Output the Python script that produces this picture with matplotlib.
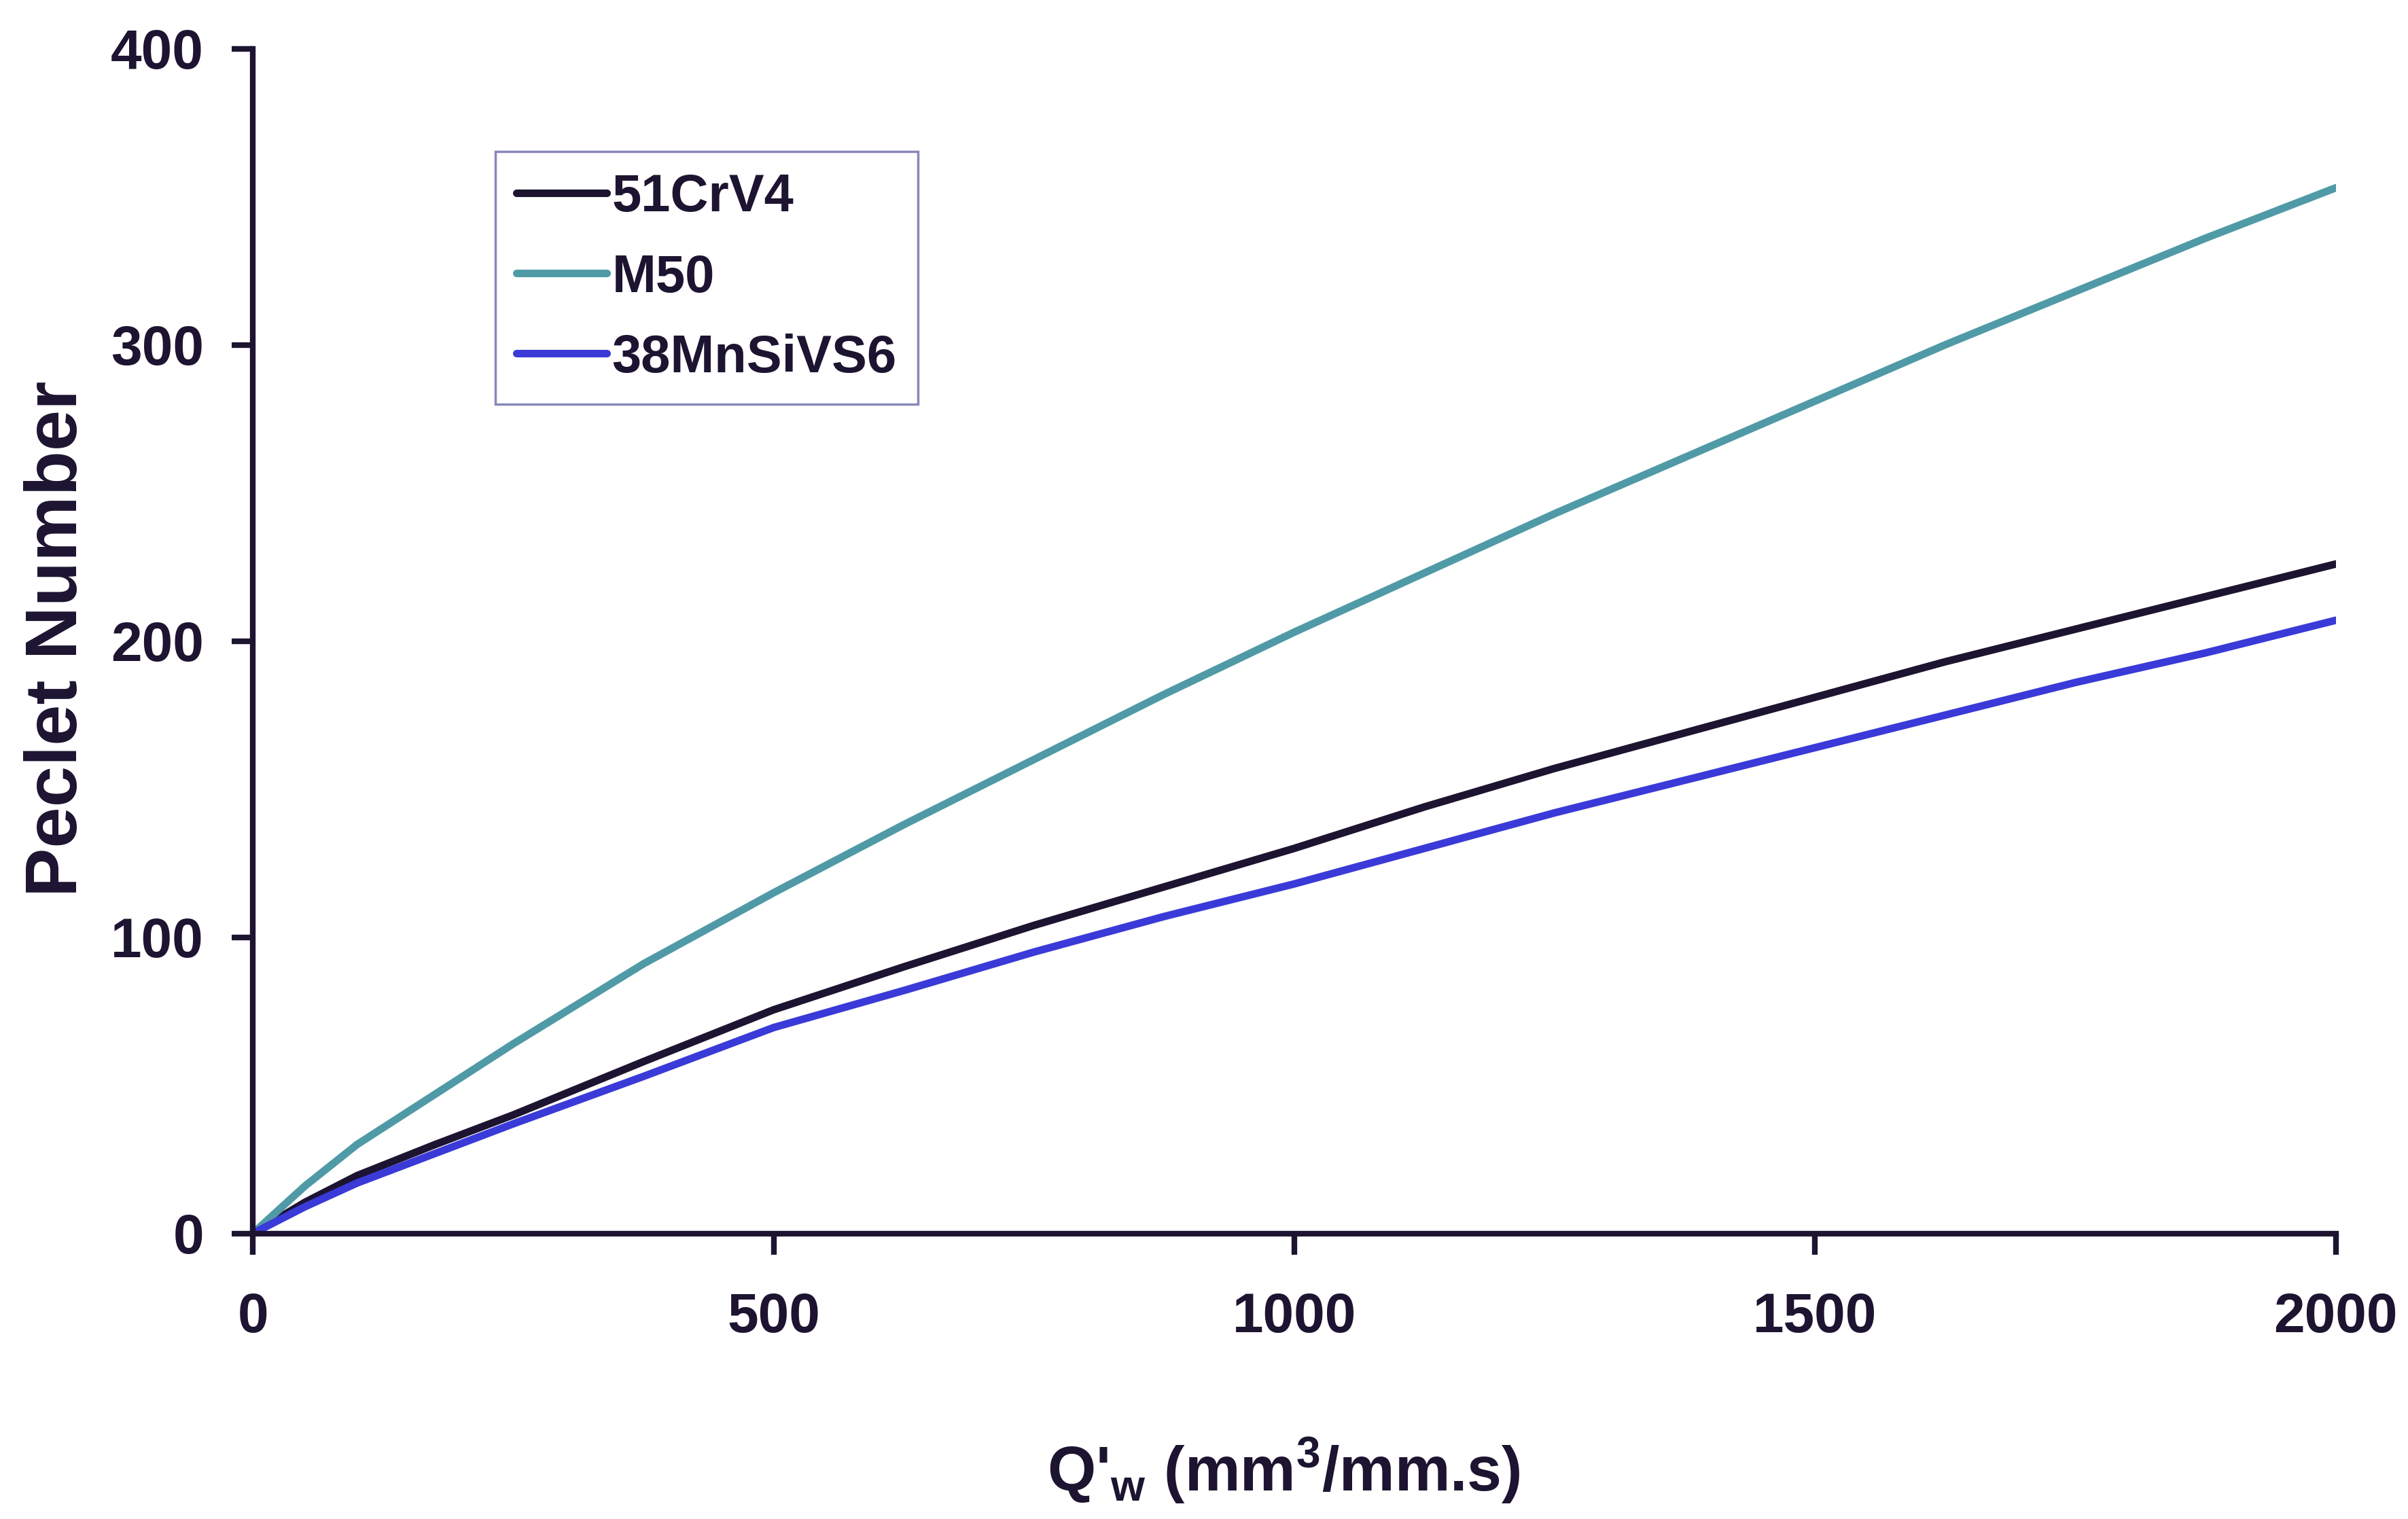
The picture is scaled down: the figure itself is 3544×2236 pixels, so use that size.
import matplotlib
matplotlib.use("Agg")
import matplotlib.pyplot as plt
import numpy as np

plt.rcParams['font.family'] = ['Liberation Sans', 'DejaVu Sans']
plt.rcParams['font.weight'] = 'bold'
plt.rcParams['mathtext.fontset'] = 'custom'
plt.rcParams['mathtext.rm'] = 'Liberation Sans:bold'
plt.rcParams['mathtext.bf'] = 'Liberation Sans:bold'
plt.rcParams['mathtext.it'] = 'Liberation Sans:bold'
plt.rcParams['mathtext.default'] = 'bf'

# Data
q_w = [0, 50, 100, 175, 250, 375, 500, 625, 750, 875, 1000, 1125, 1250,
       1375, 1500, 1625, 1750, 1875, 2000]
pe_51crv4 = [0, 10.5, 19.5, 30, 40, 58, 75.5, 90, 104, 117, 130, 144, 157,
             169, 181, 193, 204, 215, 226]
pe_m50 = [0, 16, 30, 47, 64, 91, 115, 138, 160, 182, 203, 223, 243,
          262, 281, 300, 318, 336, 353]
pe_38mnsivs6 = [0, 9, 17, 27, 37, 53, 69.5, 82, 95, 107, 118, 130, 142,
                153, 164, 175, 186, 196, 207]

series_names = ['51CrV4', 'M50', '38MnSiVS6']
x_ticks = [0, 500, 1000, 1500, 2000]
y_ticks = [0, 100, 200, 300, 400]

colors = ['#1c1430', '#4f9aa6', '#3a3ad8']
axis_color = '#1c1430'

fig = plt.figure(figsize=(35.44, 22.36), dpi=100)
ax = fig.add_axes([0.105, 0.188, 0.865, 0.780])

for ys, name, c in zip([pe_51crv4, pe_m50, pe_38mnsivs6], series_names, colors):
    ax.plot(q_w, ys, color=c, lw=8, label=name, solid_capstyle='round',
            solid_joinstyle='round')

ax.set_xlim(0, 2000)
ax.set_ylim(0, 400)
ax.set_xticks(x_ticks)
ax.set_yticks(y_ticks)

for s in ['top', 'right']:
    ax.spines[s].set_visible(False)
for s in ['left', 'bottom']:
    ax.spines[s].set_linewidth(6)
    ax.spines[s].set_color(axis_color)

ax.tick_params(axis='both', direction='out', length=22, width=6, color=axis_color,
               labelsize=59, labelcolor=axis_color)
ax.tick_params(axis='x', pad=40)
ax.tick_params(axis='y', pad=30)
for lab in ax.get_xticklabels() + ax.get_yticklabels():
    lab.set_fontweight('bold')

ax.set_ylabel('Peclet Number', fontsize=78, fontweight='bold', color=axis_color,
              va='center')
ax.yaxis.set_label_coords(-0.0936, 0.502)
ax.set_xlabel(r"Q'$_{w}$ (mm$^{3}$/mm.s)", fontsize=66, fontweight='bold', color=axis_color,
              va='center')
ax.xaxis.set_label_coords(0.495, -0.20)

leg = ax.legend(loc='upper left', bbox_to_anchor=(0.1165, 0.913), borderaxespad=0,
                fontsize=56, frameon=True, fancybox=False, handlelength=1.7,
                handletextpad=0.1, labelspacing=0.58, borderpad=0.4)
leg.get_frame().set_edgecolor('#6a6aa8')
leg.get_frame().set_linewidth(2.5)
for t in leg.get_texts():
    t.set_color(axis_color)
    t.set_fontweight('bold')

fig.savefig('out.png', dpi=100)
